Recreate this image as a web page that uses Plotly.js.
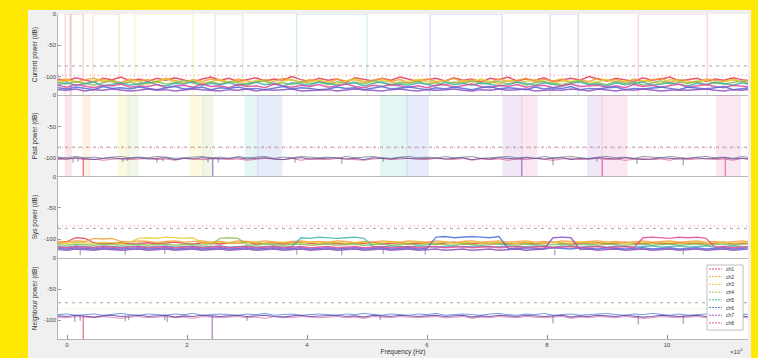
<!DOCTYPE html>
<html><head><meta charset="utf-8">
<script src="https://cdn.plot.ly/plotly-3.0.1.min.js"></script>
<style>html,body{margin:0;padding:0;background:#f0f0f0;}#chart{width:758px;height:358px;}</style>
</head><body><div id="chart"></div>
<script>
// ---------------- DATA ----------------
const channelNames = ['ch1','ch2','ch3','ch4','ch5','ch6','ch7','ch8'];
const xTickVals = [0,2,4,6,8,10];
const xTickText = ['0','2','4','6','8','10'];
const yTickVals = [-100,-50,0];
const yTickText = ['-100','-50','0'];
const panelTitles = ['Current power (dB)','Past power (dB)','Sys power (dB)','Neighbour power (dB)'];
const xTitle = 'Frequency (Hz)';
const noiseX0 = -0.15, noiseDX = 0.15;   // frequency grid (x10^4 Hz)

// panel 1: occupied channel masks (start, end, channel)
const maskStart = [-0.03, 0.07, 0.43, 1.13, 2.47, 3.83, 6.05, 8.05, 9.52];
const maskEnd   = [ 0.05, 0.27, 0.87, 2.10, 2.93, 5.00, 7.25, 8.52, 10.67];
const maskCh    = [0, 0, 1, 2, 3, 4, 5, 6, 7];
const maskOn = 0, floorLevel = -130;

// panel 1 noise per channel
const cur1 = [-104,-107,-102,-106,-109,-103,-105,-101,-107,-104,-108,-103,-106,-102,-105,-109,-104,-101,-106,-103,-108,-105,-102,-107,-104,-106,-100,-105,-108,-103,-106,-104,-109,-102,-105,-107,-103,-106,-101,-104,-108,-105,-103,-107,-102,-106,-104,-109,-103,-105,-101,-107,-104,-106,-102,-108,-105,-103,-106,-100,-104,-107,-103,-105,-108,-102,-106,-104,-101,-107,-105,-103,-108,-104,-106,-102,-105,-107,-104,-106];
const cur2 = [-107,-104,-109,-105,-103,-108,-106,-110,-104,-107,-105,-109,-103,-107,-110,-105,-108,-104,-106,-109,-104,-107,-110,-105,-108,-103,-106,-109,-105,-107,-110,-104,-107,-105,-109,-106,-103,-108,-105,-110,-106,-104,-108,-107,-103,-109,-105,-107,-110,-104,-108,-106,-103,-109,-105,-107,-104,-110,-106,-108,-103,-107,-105,-109,-104,-108,-106,-103,-109,-105,-107,-110,-104,-106,-108,-105,-109,-104,-107,-106];
const cur3 = [-110,-106,-108,-112,-107,-105,-109,-111,-106,-108,-112,-107,-104,-109,-110,-106,-111,-108,-105,-109,-107,-111,-106,-108,-113,-107,-105,-110,-108,-106,-109,-112,-107,-104,-108,-111,-106,-109,-112,-107,-105,-108,-110,-107,-111,-106,-109,-104,-108,-112,-106,-110,-108,-105,-109,-112,-107,-108,-106,-111,-108,-105,-110,-107,-112,-106,-109,-111,-105,-108,-110,-107,-106,-111,-108,-105,-109,-112,-107,-106];
const cur4 = [-109,-112,-108,-111,-114,-110,-107,-112,-109,-113,-111,-108,-112,-110,-106,-111,-113,-109,-112,-108,-110,-114,-109,-107,-112,-110,-113,-108,-111,-109,-113,-108,-111,-109,-112,-106,-110,-114,-109,-111,-108,-112,-110,-113,-109,-111,-107,-112,-110,-108,-112,-109,-114,-110,-108,-111,-113,-109,-107,-112,-110,-113,-108,-111,-109,-114,-110,-107,-112,-109,-111,-108,-113,-110,-112,-109,-107,-111,-113,-110];
const cur5 = [-113,-110,-114,-111,-109,-115,-112,-110,-114,-111,-109,-113,-115,-111,-112,-108,-114,-111,-113,-110,-114,-112,-109,-113,-111,-115,-110,-112,-114,-109,-111,-114,-112,-110,-115,-111,-109,-113,-112,-114,-110,-112,-115,-109,-113,-111,-114,-110,-112,-115,-113,-109,-111,-114,-110,-112,-115,-111,-109,-113,-112,-115,-110,-113,-111,-109,-114,-112,-110,-113,-115,-111,-113,-109,-112,-114,-110,-113,-111,-112];
const cur6 = [-118,-120,-117,-119,-121,-116,-119,-118,-120,-117,-119,-121,-118,-116,-120,-119,-117,-121,-118,-119,-117,-120,-119,-121,-118,-116,-120,-118,-119,-121,-120,-117,-119,-118,-121,-119,-116,-120,-118,-117,-119,-121,-118,-120,-117,-119,-121,-118,-116,-120,-118,-119,-121,-117,-120,-118,-119,-116,-121,-119,-120,-118,-117,-121,-119,-120,-118,-117,-119,-121,-117,-119,-120,-118,-116,-121,-119,-118,-120,-118];
const cur7 = [-121,-122,-120,-123,-121,-122,-120,-121,-123,-122,-120,-122,-121,-123,-122,-120,-121,-122,-123,-121,-122,-120,-123,-121,-122,-121,-120,-123,-122,-121,-121,-123,-122,-120,-121,-122,-123,-121,-120,-122,-123,-121,-122,-121,-120,-122,-123,-121,-122,-120,-122,-121,-120,-123,-122,-121,-122,-120,-121,-123,-120,-122,-123,-121,-122,-120,-121,-123,-122,-121,-122,-121,-120,-122,-123,-121,-122,-120,-121,-122];
const cur8 = [-114,-117,-113,-116,-118,-114,-115,-112,-117,-115,-116,-113,-118,-115,-114,-117,-112,-116,-115,-118,-113,-116,-115,-118,-112,-115,-117,-114,-116,-113,-117,-115,-112,-116,-118,-114,-116,-113,-115,-117,-115,-118,-114,-113,-117,-115,-112,-116,-118,-114,-116,-113,-117,-115,-114,-118,-115,-112,-116,-115,-114,-117,-115,-118,-113,-116,-114,-117,-115,-112,-117,-115,-113,-116,-118,-114,-115,-117,-113,-116];

// panel 2: shaded bands (start, end, channel)
const bandStart = [-0.03, 0.27, 0.85, 1.02, 2.05, 2.27, 2.97, 3.18, 5.23, 5.67, 7.27, 7.58, 8.68, 8.92, 10.83];
const bandEnd   = [ 0.07, 0.38, 1.02, 1.18, 2.27, 2.43, 3.18, 3.58, 5.67, 6.02, 7.58, 7.83, 8.92, 9.33, 11.22];
const bandCh    = [0, 1, 2, 3, 2, 3, 4, 5, 4, 5, 6, 7, 6, 7, 7];
const past1 = [-101,-102,-100,-101,-103,-101,-100,-102,-101,-100,-102,-101,-100,-103,-101,-102,-100,-101,-102,-101,-100,-102,-101,-100,-102,-103,-101,-100,-102,-101,-101,-100,-102,-101,-103,-100,-101,-102,-100,-101,-102,-101,-100,-102,-101,-100,-103,-101,-102,-100,-101,-102,-100,-101,-102,-101,-100,-103,-101,-102,-100,-101,-102,-100,-101,-103,-102,-100,-101,-102,-101,-100,-102,-101,-100,-102,-101,-103,-100,-101];
const past2 = [-99,-100,-98,-100,-99,-101,-99,-98,-100,-99,-100,-98,-99,-101,-100,-99,-98,-100,-99,-101,-98,-100,-99,-98,-101,-99,-100,-98,-99,-100,-99,-101,-98,-100,-99,-98,-100,-101,-99,-98,-100,-99,-101,-98,-100,-99,-98,-101,-100,-99,-98,-100,-99,-101,-98,-100,-99,-98,-100,-101,-99,-98,-100,-99,-101,-98,-99,-100,-98,-99,-101,-99,-98,-100,-99,-101,-98,-100,-99,-100];
const past3 = [-103,-102,-101,-103,-102,-104,-102,-101,-103,-102,-101,-103,-102,-104,-101,-102,-103,-102,-101,-103,-102,-104,-103,-101,-102,-103,-101,-104,-102,-103,-103,-101,-102,-103,-104,-102,-101,-103,-102,-101,-102,-103,-101,-102,-103,-101,-104,-102,-103,-102,-104,-102,-103,-101,-102,-104,-102,-101,-103,-102,-101,-103,-102,-104,-102,-101,-103,-102,-104,-101,-103,-102,-101,-103,-102,-104,-101,-102,-103,-102];
const past2SpikeX = [0.10,0.18,0.93,1.00,1.50,1.60,2.35,2.52,3.80,4.58,5.27,8.10,8.83,9.50,10.27];
const past2SpikeY = [-108,-106,-107,-105,-108,-106,-107,-108,-108,-110,-106,-112,-106,-110,-112];
const past2DeepX = [0.27, 2.43, 7.58, 8.92, 10.97];
const past2DeepCh = [0, 6, 6, 7, 7];
const past2Top = -101;

// panel 3 per channel
const sys1 = [-107,-104,-98,-99,-106,-108,-107,-106,-108,-107,-106,-108,-107,-105,-107,-108,-106,-107,-108,-106,-107,-105,-108,-107,-106,-108,-107,-105,-107,-108,-106,-107,-108,-106,-107,-105,-108,-107,-106,-108,-107,-106,-108,-107,-105,-107,-108,-106,-107,-106,-108,-107,-106,-108,-107,-105,-107,-108,-106,-107,-106,-108,-107,-105,-107,-108,-106,-107,-108,-106,-107,-106,-108,-107,-105,-108,-107,-106,-108,-107];
const sys2 = [-104,-105,-103,-104,-99,-100,-99,-104,-105,-103,-104,-106,-104,-103,-105,-104,-103,-105,-104,-106,-103,-104,-105,-103,-104,-106,-104,-103,-105,-104,-105,-103,-104,-106,-104,-105,-103,-104,-105,-103,-104,-105,-103,-104,-106,-104,-103,-105,-104,-103,-105,-104,-103,-105,-104,-106,-103,-104,-105,-104,-103,-105,-104,-106,-104,-103,-105,-104,-103,-105,-104,-103,-105,-104,-106,-104,-103,-105,-104,-105];
const sys3 = [-106,-107,-105,-106,-107,-105,-106,-107,-105,-99,-98,-99,-97,-98,-99,-98,-106,-107,-105,-106,-107,-106,-105,-107,-106,-105,-107,-106,-105,-107,-106,-105,-107,-106,-105,-107,-106,-105,-107,-106,-105,-107,-106,-105,-107,-106,-105,-106,-107,-105,-106,-107,-105,-106,-107,-105,-106,-107,-105,-106,-107,-105,-106,-107,-106,-105,-107,-106,-105,-107,-106,-105,-107,-106,-105,-107,-106,-105,-107,-106];
const sys4 = [-109,-110,-108,-109,-110,-108,-109,-110,-109,-108,-110,-109,-108,-110,-109,-108,-110,-109,-99,-98,-99,-109,-110,-108,-109,-110,-109,-108,-110,-109,-108,-110,-109,-108,-110,-109,-108,-110,-109,-108,-110,-109,-108,-109,-110,-108,-109,-110,-109,-108,-109,-110,-108,-109,-110,-109,-108,-110,-109,-108,-110,-108,-109,-110,-109,-108,-110,-109,-108,-110,-109,-108,-110,-109,-108,-110,-109,-108,-110,-109];
const sys5 = [-112,-113,-111,-112,-113,-111,-112,-113,-112,-111,-113,-112,-111,-113,-112,-111,-113,-112,-111,-113,-112,-111,-113,-112,-111,-113,-112,-98,-99,-97,-98,-99,-98,-97,-99,-112,-113,-111,-112,-113,-111,-112,-113,-112,-111,-113,-112,-111,-113,-112,-111,-113,-112,-111,-112,-113,-111,-112,-113,-111,-112,-113,-111,-112,-113,-112,-111,-113,-112,-111,-113,-112,-111,-113,-112,-111,-113,-112,-111,-112];
const sys6 = [-115,-116,-114,-115,-116,-114,-115,-116,-115,-114,-116,-115,-114,-116,-115,-114,-116,-115,-114,-116,-115,-114,-116,-115,-114,-116,-115,-114,-116,-115,-114,-116,-115,-114,-116,-115,-114,-116,-115,-114,-116,-115,-97,-96,-98,-97,-96,-97,-98,-96,-115,-116,-114,-115,-116,-114,-115,-116,-114,-115,-116,-114,-115,-116,-115,-114,-116,-115,-114,-116,-115,-114,-116,-115,-114,-116,-115,-114,-116,-115];
const sys7 = [-117,-118,-116,-117,-118,-116,-117,-118,-117,-116,-118,-117,-116,-118,-117,-116,-118,-117,-116,-118,-117,-116,-118,-117,-116,-118,-117,-116,-118,-117,-116,-118,-117,-116,-118,-117,-116,-118,-117,-116,-118,-117,-116,-118,-117,-116,-118,-117,-116,-118,-117,-116,-118,-117,-116,-98,-97,-98,-117,-116,-118,-117,-116,-118,-117,-116,-118,-117,-116,-118,-117,-116,-118,-117,-116,-118,-117,-116,-118,-117];
const sys8 = [-113,-114,-112,-113,-114,-112,-113,-114,-113,-112,-114,-113,-112,-114,-113,-112,-114,-113,-112,-114,-113,-112,-114,-113,-112,-114,-113,-112,-114,-113,-112,-114,-113,-112,-114,-113,-112,-114,-113,-112,-114,-113,-112,-114,-113,-112,-114,-113,-112,-114,-113,-112,-114,-113,-112,-114,-113,-112,-114,-113,-112,-114,-113,-112,-114,-98,-97,-98,-99,-97,-98,-97,-99,-113,-112,-114,-113,-112,-114,-113];
const sys3SpikeX = [0.22,0.97,1.63,3.83,4.58,5.27,5.97,8.13,10.27];
const sys3SpikeY = [-126,-125,-124,-125,-126,-124,-125,-126,-125];
const sys3Top = -117;

// panel 4
const nb1 = [-93,-94,-92,-93,-95,-93,-92,-94,-93,-92,-94,-93,-92,-95,-93,-94,-92,-93,-94,-93,-92,-94,-93,-92,-94,-95,-93,-92,-94,-93,-93,-92,-94,-93,-95,-92,-93,-94,-92,-93,-94,-93,-92,-94,-93,-92,-95,-93,-94,-92,-93,-94,-92,-93,-94,-93,-92,-95,-93,-94,-92,-93,-94,-92,-93,-95,-94,-92,-93,-94,-93,-92,-94,-93,-92,-94,-93,-95,-92,-93];
const nb2 = [-91,-90,-92,-91,-90,-92,-91,-89,-91,-92,-90,-91,-92,-90,-91,-89,-92,-91,-90,-91,-92,-90,-91,-89,-92,-91,-90,-92,-91,-90,-91,-92,-90,-91,-89,-91,-92,-90,-91,-92,-90,-91,-89,-92,-91,-90,-91,-92,-90,-89,-91,-92,-90,-91,-89,-92,-91,-90,-92,-91,-90,-89,-91,-92,-90,-91,-89,-91,-92,-90,-92,-91,-90,-89,-91,-92,-90,-91,-89,-91];
const nb3 = [-95,-96,-94,-95,-96,-94,-95,-97,-95,-94,-96,-95,-94,-96,-95,-97,-94,-95,-96,-95,-94,-96,-95,-97,-94,-95,-96,-94,-95,-96,-95,-94,-96,-95,-97,-94,-95,-96,-94,-95,-96,-95,-94,-96,-95,-94,-97,-95,-96,-94,-95,-96,-94,-95,-96,-95,-94,-97,-95,-96,-94,-95,-96,-94,-95,-97,-96,-94,-95,-96,-95,-94,-96,-95,-94,-96,-95,-97,-94,-95];
const nb4SpikeX = [0.13,0.22,0.97,1.03,1.63,1.67,3.00,5.22,8.10,9.52,10.27];
const nb4SpikeY = [-103,-101,-102,-100,-100,-103,-101,-100,-105,-107,-106];
const nb4DeepX = [0.27, 2.42];
const nb4DeepCh = [0, 6];
const nb4Top = -93;

// reference levels per panel
const dashLevel = [-83, -83, -83, -72];
const dotLevel  = [-98, -84, -79, -82];

// ---------------- STYLE ----------------
const chColors = ['#e8384f','#f39c34','#e3cc2c','#8cc152','#3bb3b0','#4a6fd6','#8e4fc1','#e0479e'];
const dotColors = ['#e8838f','#e8838f','#e8838f','#d5dc78'];
const FONT = 'Liberation Sans, Arial, sans-serif';
const L=58, R=10, T=14, B=19, W=758, H=358;
const PW = W-L-R, PH = H-T-B;
const px2x = p => (p-L)/PW;
const px2y = p => (H-B-p)/PH;
const xRange = [-0.15, 11.35];

const ax = i => i===1 ? '' : String(i);
const traces = [];
function line(y, p, color, width, opacity){
  traces.push({type:'scatter',mode:'lines',x0:noiseX0,dx:noiseDX,y:y,xaxis:'x'+ax(p),yaxis:'y'+ax(p),
    line:{color:color,width:width},opacity:opacity,hoverinfo:'skip',showlegend:false});
}
function spikes(xs, ys, top, p, color, width, opacity){
  const X=[],Y=[];
  xs.forEach((v,i)=>{X.push(v,v,null);Y.push(top,ys[i],null);});
  traces.push({type:'scatter',mode:'lines',x:X,y:Y,xaxis:'x'+ax(p),yaxis:'y'+ax(p),
    line:{color:color,width:width},opacity:opacity,hoverinfo:'skip',showlegend:false});
}

// panel 1 masks
maskStart.forEach((s,i)=>{
  const e = maskEnd[i];
  traces.push({type:'scatter',mode:'lines',x:[s,s,e,e],y:[floorLevel,maskOn,maskOn,floorLevel],
    xaxis:'x',yaxis:'y',line:{color:chColors[maskCh[i]],width:1},opacity:0.3,hoverinfo:'skip',showlegend:false});
});
[cur1,cur2,cur3,cur4,cur5,cur8,cur6,cur7].forEach((y,k)=>{
  const idx=[0,1,2,3,4,7,5,6][k];
  line(y,1,chColors[idx],1.5,0.85);
});

// panel 2 bands
bandStart.forEach((s,i)=>{
  const e = bandEnd[i];
  traces.push({type:'scatter',mode:'lines',x:[s,s,e,e,s],y:[floorLevel,maskOn,maskOn,floorLevel,floorLevel],
    xaxis:'x2',yaxis:'y2',fill:'toself',fillcolor:chColors[bandCh[i]],opacity:0.13,
    line:{color:chColors[bandCh[i]],width:1.3},hoverinfo:'skip',showlegend:false});
});
line(past3,2,'#e05a7a',0.9,0.8);
line(past2,2,'#6b6b80',0.9,0.8);
line(past1,2,'#6a4fa8',1,0.9);
spikes(past2SpikeX,past2SpikeY,past2Top,2,'#5b4a80',0.8,0.8);
past2DeepX.forEach((v,i)=>spikes([v],[floorLevel],past2Top,2,chColors[past2DeepCh[i]],1,0.9));

// panel 3
[sys1,sys2,sys3,sys4,sys5,sys6,sys7,sys8].forEach((y,i)=>line(y,3,chColors[i],1.3,0.85));
spikes(sys3SpikeX,sys3SpikeY,sys3Top,3,'#5b4a80',0.8,0.8);

// panel 4
line(nb3,4,'#d86aa8',0.9,0.8);
line(nb2,4,'#4a6fd6',0.9,0.8);
line(nb1,4,'#6a4fa8',1.1,0.9);
spikes(nb4SpikeX,nb4SpikeY,nb4Top,4,'#5b4a80',0.8,0.8);
nb4DeepX.forEach((v,i)=>spikes([v],[floorLevel],nb4Top,4,chColors[nb4DeepCh[i]],1,0.9));

// ---------------- LAYOUT ----------------
const layout = {
  width:W,height:H,margin:{l:L,r:R,t:T,b:B},
  paper_bgcolor:'#f0f0f0',plot_bgcolor:'#ffffff',
  font:{family:FONT,size:6,color:'#444'},showlegend:false,
  shapes:[],annotations:[]
};
for(let p=1;p<=4;p++){
  const dom=[(4-p)/4,(5-p)/4];
  layout['yaxis'+ax(p)] = {domain:dom,range:[floorLevel,0],tickvals:yTickVals,ticktext:yTickText,
    ticks:'inside',ticklen:3,tickcolor:'#9a9a9a',showline:true,linecolor:'#a8a8a8',linewidth:0.8,
    showgrid:false,zeroline:false,tickfont:{size:6,color:'#444',family:FONT},anchor:'x'+ax(p),
    title:{text:panelTitles[p-1],font:{size:6.5,color:'#333',family:FONT},standoff:5}};
  const xa = {range:xRange,anchor:'y'+ax(p),tickvals:xTickVals,ticktext:xTickText,
    ticks:'inside',ticklen:p===4?4:0,tickcolor:'#888',showline:true,linecolor:'#a8a8a8',linewidth:0.8,
    showgrid:false,zeroline:false,showticklabels:p===4,tickfont:{size:6,color:'#444',family:FONT}};
  if(p>1) xa.matches='x';
  layout['xaxis'+ax(p)] = xa;
  layout.shapes.push({type:'line',xref:'x'+ax(p)+' domain',yref:'y'+ax(p),x0:0,x1:1,y0:dashLevel[p-1],y1:dashLevel[p-1],
    line:{color:'#9a9a9a',width:0.9,dash:'3px,4px'},layer:'above'});
  layout.shapes.push({type:'line',xref:'x'+ax(p)+' domain',yref:'y'+ax(p),x0:0,x1:1,y0:dotLevel[p-1],y1:dotLevel[p-1],
    line:{color:dotColors[p-1],width:0.9,dash:'1px,3px'},layer:'above'});
}
layout.xaxis4.title = {text:xTitle,font:{size:6.5,color:'#333',family:FONT},standoff:1};

// custom compact legend (inside panel 4)
const lx0=707,lx1=743,ly0=265,ly1=330;
layout.shapes.push({type:'rect',xref:'paper',yref:'paper',x0:px2x(lx0),x1:px2x(lx1),y0:px2y(ly1),y1:px2y(ly0),
  fillcolor:'#ffffff',line:{color:'#b0b0b0',width:0.8},layer:'above'});
channelNames.forEach((n,i)=>{
  const py = 269 + 7.7*i;
  layout.shapes.push({type:'line',xref:'paper',yref:'paper',x0:px2x(709),x1:px2x(722),y0:px2y(py),y1:px2y(py),
    line:{color:chColors[i],width:0.9,dash:'2px,1px'},layer:'above'});
  layout.annotations.push({xref:'paper',yref:'paper',x:px2x(724),y:px2y(py),xanchor:'left',yanchor:'middle',
    text:n,showarrow:false,font:{size:5,color:'#333',family:FONT}});
});
layout.annotations.push({xref:'paper',yref:'paper',x:px2x(745),y:px2y(351),xanchor:'right',yanchor:'middle',
  text:'×10<sup>4</sup>',showarrow:false,font:{size:6,color:'#444',family:FONT}});

// yellow frame
const Y='#ffe900';
layout.shapes.push({type:'rect',xref:'paper',yref:'paper',x0:px2x(-5),x1:px2x(28),y0:px2y(365),y1:px2y(-5),fillcolor:Y,line:{width:0},layer:'above'});
layout.shapes.push({type:'rect',xref:'paper',yref:'paper',x0:px2x(-5),x1:px2x(765),y0:px2y(10),y1:px2y(-5),fillcolor:Y,line:{width:0},layer:'above'});
layout.shapes.push({type:'rect',xref:'paper',yref:'paper',x0:px2x(751),x1:px2x(765),y0:px2y(365),y1:px2y(-5),fillcolor:Y,line:{width:0},layer:'above'});

Plotly.newPlot('chart',traces,layout,{displayModeBar:false,staticPlot:true});
</script></body></html>
